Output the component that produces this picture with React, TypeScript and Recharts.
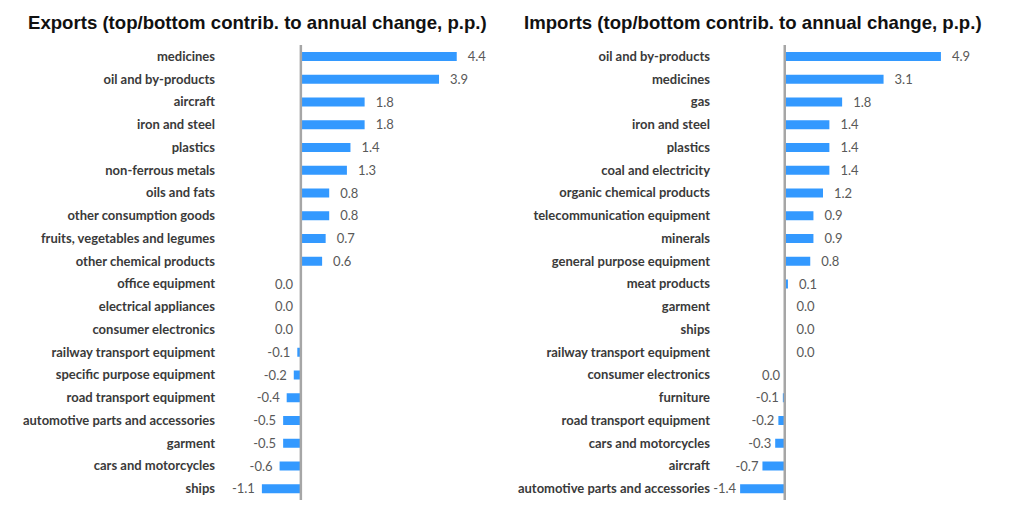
import { BarChart, Bar, XAxis, YAxis, ReferenceLine, LabelList } from 'recharts'

const exportCategories = [
  'medicines',
  'oil and by-products',
  'aircraft',
  'iron and steel',
  'plastics',
  'non-ferrous metals',
  'oils and fats',
  'other consumption goods',
  'fruits, vegetables and legumes',
  'other chemical products',
  'office equipment',
  'electrical appliances',
  'consumer electronics',
  'railway transport equipment',
  'specific purpose equipment',
  'road transport equipment',
  'automotive parts and accessories',
  'garment',
  'cars and motorcycles',
  'ships',
]
const exportValues = [
  4.4, 3.9, 1.8, 1.8, 1.4, 1.3, 0.8, 0.8, 0.7, 0.6, -0.02, -0.02, -0.02, -0.1,
  -0.2, -0.4, -0.5, -0.5, -0.6, -1.1,
]

const importCategories = [
  'oil and by-products',
  'medicines',
  'gas',
  'iron and steel',
  'plastics',
  'coal and electricity',
  'organic chemical products',
  'telecommunication equipment',
  'minerals',
  'general purpose equipment',
  'meat products',
  'garment',
  'ships',
  'railway transport equipment',
  'consumer electronics',
  'furniture',
  'road transport equipment',
  'cars and motorcycles',
  'aircraft',
  'automotive parts and accessories',
]
const importValues = [
  4.9, 3.1, 1.8, 1.4, 1.4, 1.4, 1.2, 0.9, 0.9, 0.8, 0.1, 0.02, 0.02, 0.02,
  -0.02, -0.06, -0.2, -0.3, -0.7, -1.4,
]

const BAR = '#3399ff'
const FONT = 'Lato, "Open Sans", sans-serif'

function fmt(v: number) {
  const s = v.toFixed(1)
  return s === '-0.0' ? '0.0' : s
}

type Props = {
  title: string
  titleLeft: number
  categories: string[]
  values: number[]
  left: number
  width: number
  yAxisWidth: number
  tickMargin: number
  marginRight: number
  domain: [number, number]
  negGap: number
}

// plain tick, no wrapping
const CategoryTick = (props: any) => {
  const { x, y, payload } = props
  return (
    <text
      x={x}
      y={y}
      dy={4.5}
      textAnchor="end"
      fill="#3a3a3a"
      fontSize={13}
      fontWeight={700}
      fontFamily={FONT}
    >
      {payload.value}
    </text>
  )
}

function Panel({
  title,
  titleLeft,
  categories,
  values,
  left,
  width,
  yAxisWidth,
  tickMargin,
  marginRight,
  domain,
  negGap,
}: Props) {
  const data = categories.map((name, i) => ({ name, value: values[i] }))

  const renderLabel = (props: any) => {
    const { x, y, width: w, height: h, value } = props
    const x0 = Number(x)
    const x1 = Number(x) + Number(w)
    const lo = Math.min(x0, x1)
    const hi = Math.max(x0, x1)
    const cy = Number(y) + Number(h) / 2
    const v = Number(value)
    const pos = v > 0
    return (
      <text
        x={pos ? hi + 11 : lo - negGap}
        y={cy}
        dy={4.5}
        textAnchor={pos ? 'start' : 'end'}
        fill="#595959"
        fontSize={13}
        fontFamily={FONT}
      >
        {fmt(v)}
      </text>
    )
  }

  return (
    <div style={{ position: 'absolute', left, top: 0, width, height: 510 }}>
      <div
        style={{
          position: 'absolute',
          left: titleLeft,
          top: 12,
          fontFamily: '"Liberation Sans", Arial, sans-serif',
          fontWeight: 'bold',
          fontSize: 18.6,
          color: '#111',
          whiteSpace: 'nowrap',
        }}
      >
        {title}
      </div>
      <BarChart
        width={width}
        height={510}
        data={data}
        layout="vertical"
        margin={{ top: 45, right: marginRight, bottom: 10, left: 0 }}
      >
        <XAxis type="number" domain={domain} hide allowDataOverflow />
        <YAxis
          type="category"
          dataKey="name"
          width={yAxisWidth}
          axisLine={false}
          tickLine={false}
          tickSize={0}
          tickMargin={tickMargin}
          interval={0}
          tick={<CategoryTick />}
        />
        <Bar
          dataKey="value"
          fill={BAR}
          barSize={9}
          isAnimationActive={false}
        >
          <LabelList dataKey="value" content={renderLabel} />
        </Bar>
        <ReferenceLine x={0} stroke="#a6a6a6" strokeWidth={2.5} />
      </BarChart>
    </div>
  )
}

export default function App() {
  return (
    <div
      style={{
        position: 'absolute',
        left: 0,
        top: 0,
        width: 1024,
        height: 510,
        background: '#fff',
      }}
    >
      <Panel
        title="Exports (top/bottom contrib. to annual change, p.p.)"
        titleLeft={28}
        categories={exportCategories}
        values={exportValues}
        left={0}
        width={512}
        yAxisWidth={230}
        tickMargin={15}
        marginRight={34}
        domain={[-2, 5]}
        negGap={7}
      />
      <Panel
        title="Imports (top/bottom contrib. to annual change, p.p.)"
        titleLeft={12}
        categories={importCategories}
        values={importValues}
        left={512}
        width={512}
        yAxisWidth={209}
        tickMargin={11}
        marginRight={48}
        domain={[-2, 6]}
        negGap={4}
      />
    </div>
  )
}
